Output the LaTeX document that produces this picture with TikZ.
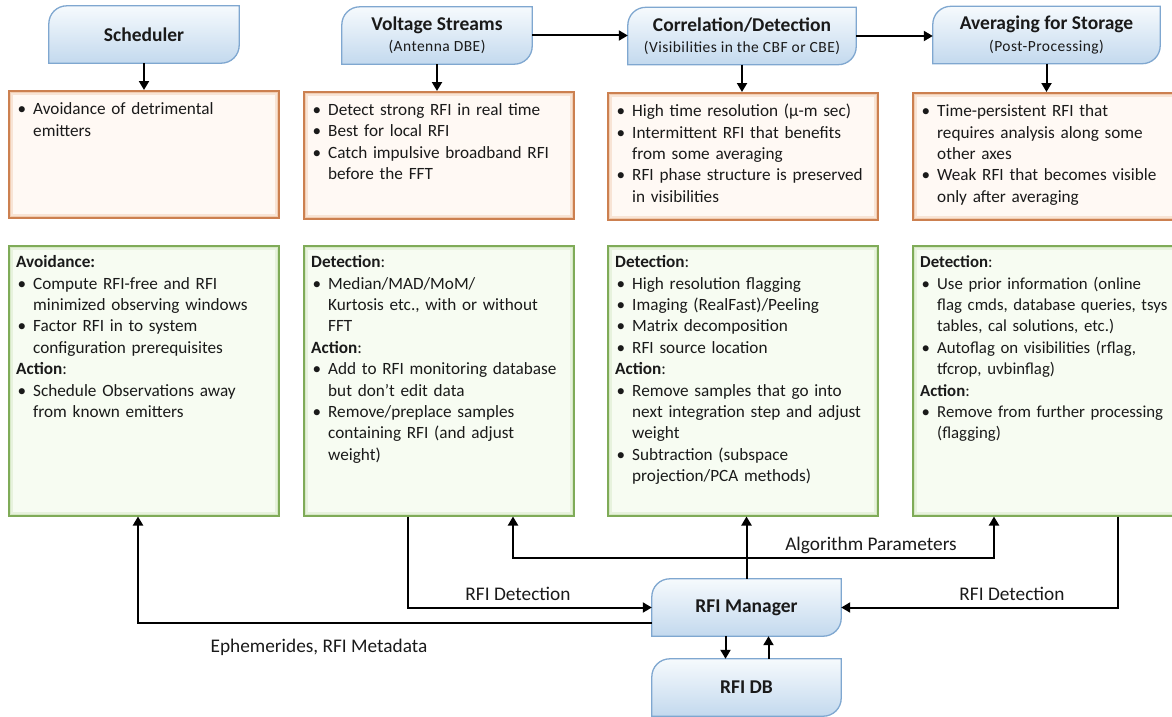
\documentclass[tikz,border=0pt]{standalone}
\usepackage{fontspec}
\setmainfont{Carlito}
\newfontfamily\subfam[LetterSpace=3]{Carlito}
\usetikzlibrary{arrows.meta,backgrounds,calc}

\definecolor{hdrtop}{HTML}{F6FAFD}
\definecolor{hdrbot}{HTML}{C3D9EE}
\definecolor{hdredge}{HTML}{7FA7D0}
\definecolor{ofill}{HTML}{FFF9F4}
\definecolor{oedge}{HTML}{CC8050}
\definecolor{oglow}{HTML}{EDBF9C}
\definecolor{gfill}{HTML}{F7FCF2}
\definecolor{gedge}{HTML}{7FAB58}
\definecolor{gglow}{HTML}{CBE2B6}
\definecolor{ink}{HTML}{1A1A1A}

\newcommand\hdrtitle{\fontsize{19.5}{22}\selectfont\bfseries}
\newcommand\hdrsub{\subfam\fontsize{15.5}{22}\selectfont}
\newcommand\topline{\rule{0pt}{15pt}}
\newcommand\hd[1]{\par\noindent#1\par}
\newcommand\bitem[1]{\par\hangindent=17pt\hangafter=1\noindent\makebox[17pt][l]{\hspace{1.5pt}\textbullet}#1}

% header box outline: rounded top-left and bottom-right corners
\newcommand\hdrshape[1]{%
  \begin{scope}[on background layer]
    \draw[hdrbody] (#1.south west)
      -- ([yshift=-18pt]#1.north west)
      .. controls ([yshift=-8pt]#1.north west) and ([xshift=8pt]#1.north west) .. ([xshift=18pt]#1.north west)
      -- (#1.north east)
      -- ([yshift=18pt]#1.south east)
      .. controls ([yshift=8pt]#1.south east) and ([xshift=-8pt]#1.south east) .. ([xshift=-18pt]#1.south east)
      -- cycle;
  \end{scope}}

\tikzset{
  hdr/.style={minimum width=#1, minimum height=57pt, inner sep=0pt, align=center},
  hdrbody/.style={draw=hdredge, line width=1.3pt, top color=hdrtop, bottom color=hdrbot},
  glowbox/.style 2 args={draw=#1, line width=1.5pt, anchor=north west, inner sep=0pt,
    minimum width=270pt,
    path picture={
      \draw[#2, line width=8pt, opacity=0.35] (path picture bounding box.south west) rectangle (path picture bounding box.north east);
      \draw[#2, line width=4pt, opacity=0.6] (path picture bounding box.south west) rectangle (path picture bounding box.north east);}},
  obox/.style={glowbox={oedge}{oglow}, fill=ofill, minimum height=127pt},
  gbox/.style={glowbox={gedge}{gglow}, fill=gfill, minimum height=270pt},
  txt/.style={anchor=north west, inner sep=0pt, text width=330pt},
  arr/.style={line width=2pt, draw=black, -{Triangle[length=9pt,width=10pt]}},
  lbl/.style={anchor=base, inner sep=0pt, font=\fontsize{19.3}{22}\selectfont},
}

\begin{document}
\begin{tikzpicture}[x=1pt, y=-1pt, font=\fontsize{17.2}{21.4}\selectfont, text=ink]
\useasboundingbox (0,0) rectangle (1172,717);

% ---- stage headers ----
\node[hdr=190pt] (sched) at (144,34.5) {\hdrtitle Scheduler};
\node[hdr=190pt] (volt) at (437,35.5) {{\hdrtitle Voltage Streams}\\[0pt]{\hdrsub (Antenna DBE)}};
\node[hdr=228pt] (corr) at (742,36) {{\hdrtitle Correlation/Detection}\\[0pt]{\hdrsub (Visibilities in the CBF or CBE)}};
\node[hdr=227pt] (avg) at (1046.5,35) {{\hdrtitle Averaging for Storage}\\[0pt]{\hdrsub (Post-Processing)}};
\node[hdr=189pt] (mgr) at (746.5,607.5) {\hdrtitle RFI Manager};
\node[hdr=189pt] (db) at (746.5,687.5) {\hdrtitle RFI DB};
\hdrshape{sched}\hdrshape{volt}\hdrshape{corr}\hdrshape{avg}\hdrshape{mgr}\hdrshape{db}

% ---- characteristic boxes ----
\node[obox] (o1) at (8,90) {};
\node[obox] (o2) at (303,91) {};
\node[obox] (o3) at (607,92) {};
\node[obox] (o4) at (912,92) {};

\node[txt] (to1) at ([xshift=8pt,yshift=-3pt]o1.north west) {%
  \bitem{\topline Avoidance of detrimental\newline emitters}\par};
\node[txt] (to2) at ([xshift=8pt,yshift=-3pt]o2.north west) {%
  \bitem{\topline Detect strong RFI in real time}
  \bitem{Best for local RFI}
  \bitem{Catch impulsive broadband RFI\newline before the FFT}\par};
\node[txt] (to3) at ([xshift=8pt,yshift=-3pt]o3.north west) {%
  \bitem{\topline High time resolution (µ-m sec)}
  \bitem{Intermittent RFI that benefits\newline from some averaging}
  \bitem{RFI phase structure is preserved\newline in visibilities}\par};
\node[txt] (to4) at ([xshift=8pt,yshift=-3pt]o4.north west) {%
  \bitem{\topline Time-persistent RFI that\newline requires analysis along some\newline other axes}
  \bitem{Weak RFI that becomes visible\newline only after averaging}\par};

% ---- detection / action boxes ----
\node[gbox] (g1) at (8,245) {};
\node[gbox] (g2) at (303,245) {};
\node[gbox] (g3) at (607,245) {};
\node[gbox] (g4) at (912,245) {};

\node[txt] (tg1) at ([xshift=8pt,yshift=-1pt]g1.north west) {%
  \hd{\topline\textbf{Avoidance:}}
  \bitem{Compute RFI-free and RFI\newline minimized observing windows}
  \bitem{Factor RFI in to system\newline configuration prerequisites}
  \hd{\textbf{Action}:}
  \bitem{Schedule Observations away\newline from known emitters}\par};
\node[txt] (tg2) at ([xshift=8pt,yshift=-1pt]g2.north west) {%
  \hd{\topline\textbf{Detection}:}
  \bitem{Median/MAD/MoM/\newline Kurtosis etc., with or without\newline FFT}
  \hd{\textbf{Action}:}
  \bitem{Add to RFI monitoring database\newline but don't edit data}
  \bitem{Remove/preplace samples\newline containing RFI (and adjust\newline weight)}\par};
\node[txt] (tg3) at ([xshift=8pt,yshift=-1pt]g3.north west) {%
  \hd{\topline\textbf{Detection}:}
  \bitem{High resolution flagging}
  \bitem{Imaging (RealFast)/Peeling}
  \bitem{Matrix decomposition}
  \bitem{RFI source location}
  \hd{\textbf{Action}:}
  \bitem{Remove samples that go into\newline next integration step and adjust\newline weight}
  \bitem{Subtraction (subspace\newline projection/PCA methods)}\par};
\node[txt, font=\fontsize{16.8}{21.4}\selectfont] (tg4) at ([xshift=8pt,yshift=-1pt]g4.north west) {%
  \hd{\topline\textbf{Detection}:}
  \bitem{Use prior information (online\newline flag cmds, database queries, tsys\newline tables, cal solutions, etc.)}
  \bitem{Autoflag on visibilities (rflag,\newline tfcrop, uvbinflag)}
  \hd{\textbf{Action}:}
  \bitem{Remove from further processing\newline (flagging)}\par};

% ---- pipeline flow ----
\draw[arr] (sched.south) -- (sched.south |- o1.north);
\draw[arr] (volt.south) -- (volt.south |- o2.north);
\draw[arr] (corr.south) -- (corr.south |- o3.north);
\draw[arr] (avg.south) -- (avg.south |- o4.north);
\draw[arr] (volt.east) -- (volt.east -| corr.west);
\draw[arr] (corr.east) -- (corr.east -| avg.west);

% ---- RFI manager links ----
\coordinate (apL) at (513,558);
\coordinate (apR) at (994,558);
\coordinate (apj) at (mgr.north |- apL);
\coordinate (detL) at (408,600);
\coordinate (detR) at (1118,600);
\coordinate (eph) at (138,600);

\draw[arr] (mgr.north) -- (mgr.north |- g3.south);
\draw[arr] (apj) -| (apL |- g2.south);
\draw[arr] (apj) -| (apR |- g4.south);
\draw[arr] (detL |- g2.south) |- (mgr.west);
\draw[arr] (detR |- g4.south) |- (mgr.east);
\draw[arr] ([yshift=-15.5pt]mgr.west) -| (eph |- g1.south);
\draw[arr] ([xshift=-21pt]mgr.south) -- ([xshift=-21pt]db.north);
\draw[arr] ([xshift=22pt]db.north) -- ([xshift=22pt]mgr.south);

\node[lbl] (lap) at (871,550) {Algorithm Parameters};
\node[lbl] (ldl) at (518,600) {RFI Detection};
\node[lbl] (ldr) at (1012,600) {RFI Detection};
\node[lbl] (leph) at (319,652) {Ephemerides, RFI Metadata};
\end{tikzpicture}
\end{document}
